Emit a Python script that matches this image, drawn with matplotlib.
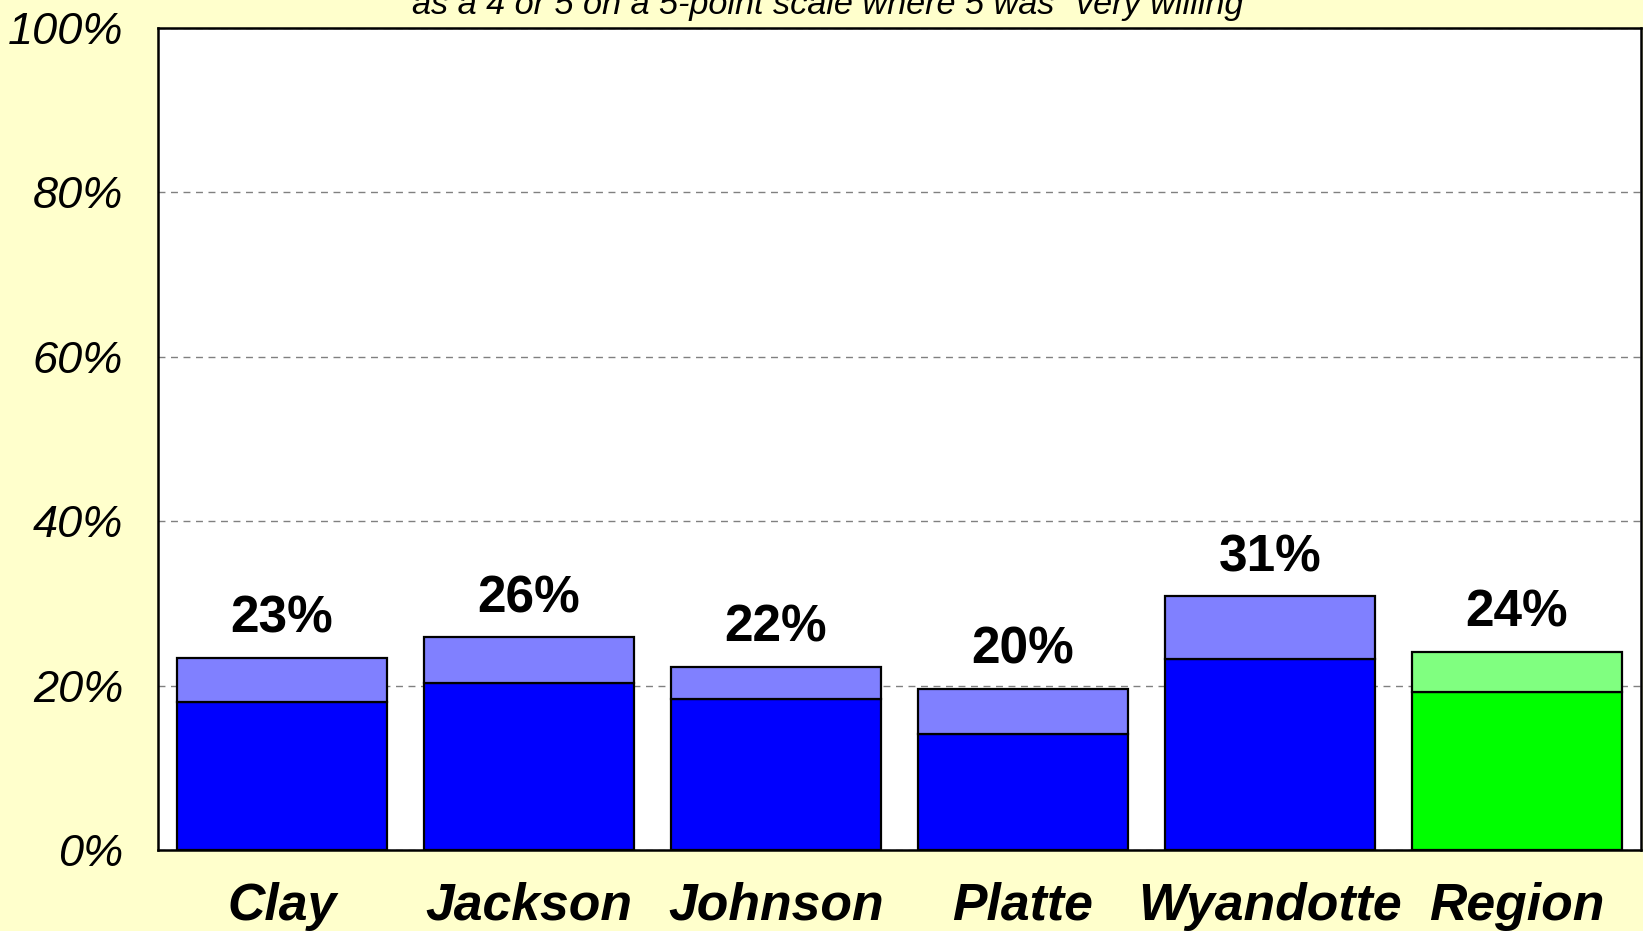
import matplotlib.pyplot as plt
from matplotlib.ticker import FuncFormatter

plt.rcParams['font.family'] = ['Liberation Sans', 'DejaVu Sans']

counties = ['Clay', 'Jackson', 'Johnson', 'Platte', 'Wyandotte', 'Region']
very_willing = [18.0, 20.3, 18.4, 14.1, 23.2, 19.2]   # dark part ("5")
total_willing = [23.4, 25.9, 22.3, 19.6, 30.9, 24.1]  # "4 or 5"
subtitle = 'as a 4 or 5 on a 5-point scale where 5 was "very willing"'

dark_cols = ['#0000FF'] * 5 + ['#00FF00']
light_cols = ['#8080FF'] * 5 + ['#80FF80']

fig = plt.figure(figsize=(16.43, 9.31), dpi=100, facecolor='#FFFFCC')
ax = fig.add_axes([0.0962, 0.0870, 0.9023, 0.8829])
ax.set_facecolor('white')

x = range(len(counties))
upper = [t - v for t, v in zip(total_willing, very_willing)]
ax.bar(x, very_willing, width=0.85, color=dark_cols, edgecolor='black', linewidth=1.6, zorder=3)
ax.bar(x, upper, bottom=very_willing, width=0.85, color=light_cols, edgecolor='black',
       linewidth=1.6, zorder=3)

for i, t in enumerate(total_willing):
    ax.annotate(f'{round(t)}%', (i, t), xytext=(0, 18), textcoords='offset points',
                ha='center', va='baseline', fontsize=37, fontweight='bold')

ax.set_xlim(-0.5, len(counties) - 0.5)
ax.set_ylim(0, 100)
ax.set_yticks([0, 20, 40, 60, 80, 100])
ax.yaxis.set_major_formatter(FuncFormatter(lambda v, p: f'{v:.0f}%'))
ax.set_xticks(list(x))
ax.set_xticklabels(counties, fontsize=37.3, fontweight='bold', fontstyle='italic')
for lab in ax.get_yticklabels():
    lab.set_fontsize(32.5)
    lab.set_fontstyle('italic')
ax.tick_params(axis='x', length=0, pad=23)
ax.tick_params(axis='y', length=0, pad=25)

ax.yaxis.grid(True, color='#808080', linestyle=(0, (5, 4)), linewidth=1)
ax.set_axisbelow(True)
for s in ax.spines.values():
    s.set_linewidth(1.8)
    s.set_color('black')

fig.text(0.5076, 1 - 14 / 931, subtitle, ha='center', va='baseline',
         fontsize=24.7, fontstyle='italic')

fig.savefig('out.png', dpi=100, facecolor=fig.get_facecolor())
